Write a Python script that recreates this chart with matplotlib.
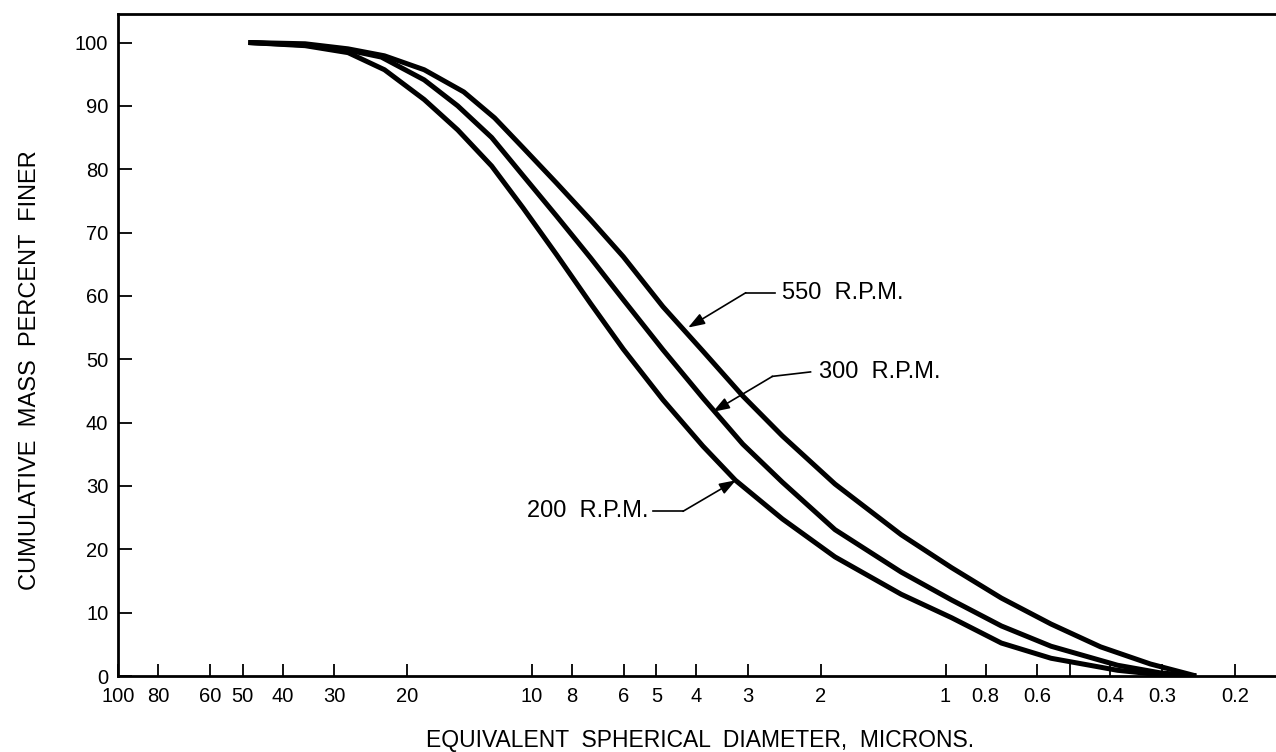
import matplotlib
matplotlib.use("Agg")
import matplotlib.pyplot as plt

plt.rcParams['font.family'] = ['Liberation Sans', 'DejaVu Sans']

# diameters (microns) and cumulative mass percent finer
d_200 = [48.4, 35.3, 27.8, 22.7, 18.2, 15.1, 12.5, 10.5, 8.71, 7.21, 6.01, 4.82, 3.86,
         3.22, 2.48, 1.85, 1.28, 0.967, 0.733, 0.556, 0.384, 0.303, 0.248]
p_200 = [100, 99.5, 98.4, 95.7, 91.0, 86.2, 80.5, 73.9, 66.5, 58.8, 51.6, 43.6, 36.3,
         30.9, 24.8, 18.8, 12.9, 9.2, 5.2, 2.8, 0.9, 0.2, 0]

d_300 = [48.4, 35.3, 27.8, 23.1, 18.2, 15.1, 12.5, 10.5, 8.71, 7.21, 6.01, 4.82, 3.86,
         3.09, 2.48, 1.85, 1.28, 0.967, 0.733, 0.556, 0.384, 0.303, 0.248]
p_300 = [100, 99.6, 98.8, 97.7, 94.1, 90.0, 85.0, 79.0, 72.6, 66.0, 59.4, 51.5, 43.9,
         36.6, 30.6, 23.1, 16.4, 12.0, 7.9, 4.7, 1.7, 0.5, 0]

d_550 = [48.4, 35.3, 27.8, 22.7, 18.2, 14.6, 12.3, 10.5, 8.71, 7.21, 6.01, 4.82, 3.86,
         3.09, 2.48, 1.85, 1.28, 0.967, 0.733, 0.556, 0.422, 0.320, 0.248]
p_550 = [100, 99.8, 99.0, 97.9, 95.7, 92.2, 88.1, 83.4, 77.8, 72.0, 66.2, 58.3, 51.3,
         44.2, 37.9, 30.3, 22.3, 17.1, 12.3, 8.2, 4.6, 1.9, 0]

x_ticks = [100, 80, 60, 50, 40, 30, 20, 10, 8, 6, 5, 4, 3, 2, 1, 0.8, 0.6, 0.5, 0.4, 0.3, 0.2]
x_labels = ['100', '80', '60', '50', '40', '30', '20', '10', '8', '6', '5', '4', '3', '2',
            '1', '0.8', '0.6', '', '0.4', '0.3', '0.2']
y_ticks = list(range(0, 101, 10))

fig = plt.figure(figsize=(12.76, 7.52), dpi=100)
ax = fig.add_axes([118 / 1276, 76 / 752, 1 - 118 / 1276, 662 / 752])

for d, p in [(d_200, p_200), (d_300, p_300), (d_550, p_550)]:
    ax.plot(d, p, color='black', lw=3.6, solid_capstyle='butt', solid_joinstyle='round')

ax.set_xscale('log')
ax.set_xlim(100, 0.159)
ax.set_ylim(0, 104.5)
ax.minorticks_off()
ax.set_xticks(x_ticks)
ax.set_xticklabels(x_labels)
ax.set_yticks(y_ticks)
ax.tick_params(axis='both', direction='in', width=1.3, labelsize=14.5, color='black')
ax.tick_params(axis='x', length=9, pad=8)
ax.tick_params(axis='y', length=10, pad=7)

ax.spines['right'].set_visible(False)
for s in ['left', 'bottom', 'top']:
    ax.spines[s].set_linewidth(2)


# annotations: elbow line + arrow to the curve
def label(text, tip, elbow, line_end, text_x, ha):
    ax.annotate('', xy=tip, xytext=elbow,
                arrowprops=dict(arrowstyle='-|>,head_length=1.0,head_width=0.35',
                                color='black', lw=1.2, shrinkA=0, shrinkB=0))
    ax.plot([elbow[0], line_end[0]], [elbow[1], line_end[1]], color='black', lw=1.2)
    ax.text(text_x, line_end[1], text, ha=ha, va='center', fontsize=17)


label('550  R.P.M.', (4.19, 55.0), (3.04, 60.5), (2.59, 60.5), 2.49, 'left')
label('300  R.P.M.', (3.65, 41.7), (2.62, 47.3), (2.12, 48.0), 2.02, 'left')
label('200  R.P.M.', (3.21, 30.9), (4.31, 26.0), (5.09, 26.0), 5.23, 'right')

fig.text(700 / 1276, 0, 'EQUIVALENT  SPHERICAL  DIAMETER,  MICRONS.',
         ha='center', va='bottom', fontsize=16.5)
fig.text(30 / 1276, 1 - 370 / 752, 'CUMULATIVE  MASS  PERCENT  FINER',
         ha='center', va='center', rotation=90, fontsize=17)

fig.savefig('out.png', dpi=100)
